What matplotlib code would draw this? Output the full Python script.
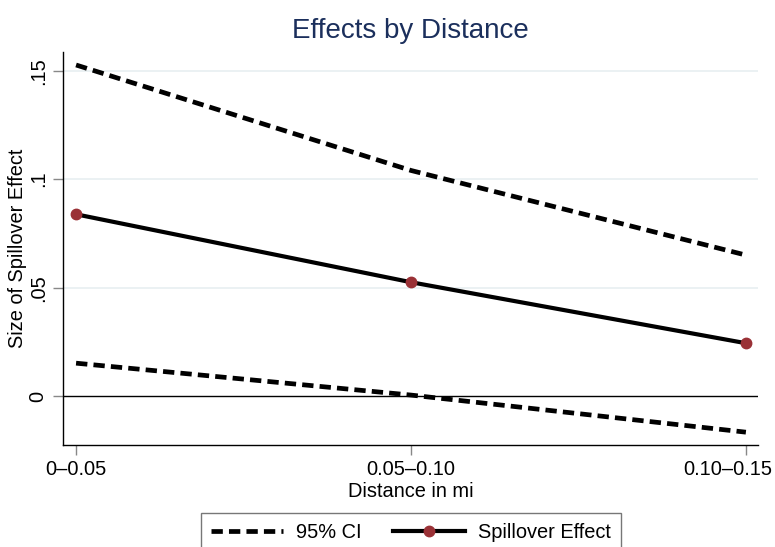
import matplotlib.pyplot as plt
import matplotlib.transforms as mtransforms
from matplotlib.lines import Line2D

categories = ['0\u20130.05', '0.05\u20130.10', '0.10\u20130.15']
effect = [0.0838, 0.0525, 0.0244]
ci_upper = [0.1526, 0.1040, 0.0650]
ci_lower = [0.0152, 0.0005, -0.0166]
yticks = [0, 0.05, 0.1, 0.15]
yticklabels = ['0', '.05', '.1', '.15']

plt.rcParams['font.family'] = ['Liberation Sans', 'DejaVu Sans']

fig = plt.figure(figsize=(7.75, 5.47), dpi=100)
ax = fig.add_axes([0.0813, 0.1865, 0.8967, 0.7185])

x = [1, 2, 3]
red = '#9a3136'

for yv in yticks[1:]:
    ax.axhline(yv, color='#e9f0f2', lw=1.3, zorder=0)
ax.axhline(0, color='black', lw=1.0, zorder=1)

ax.plot(x, ci_upper, color='black', lw=3.4, dashes=(2.4, 1.3), zorder=2)
ax.plot(x, ci_lower, color='black', lw=3.4, dashes=(2.4, 1.3), zorder=2)
ax.plot(x, effect, color='black', lw=3.0, zorder=3)
ax.plot(x, effect, 'o', color=red, ms=7.5, zorder=4)

ax.set_xlim(0.961, 3.036)
ax.set_ylim(-0.0225, 0.1586)
ax.set_xticks(x)
ax.set_xticklabels(categories)
ax.set_yticks(yticks)
ax.set_yticklabels(yticklabels, rotation=90, va='center')

for s in ['top', 'right']:
    ax.spines[s].set_visible(False)
for s in ['left', 'bottom']:
    ax.spines[s].set_linewidth(1.0)

ax.tick_params(axis='both', labelsize=14.4, length=7, width=1.0, color='#888888', pad=4)

# last label is pushed left so it stays inside the figure
last = ax.get_xticklabels()[-1]
last.set_transform(last.get_transform() +
                   mtransforms.ScaledTranslation(-0.18, 0, fig.dpi_scale_trans))

ax.set_xlabel('Distance in mi', fontsize=14.4, labelpad=2)
ax.set_ylabel('Size of Spillover Effect', fontsize=14.4, labelpad=1)
ax.set_title('Effects by Distance', fontsize=20, color='#1b2f5c', pad=10)

handles = [
    Line2D([], [], color='black', lw=3.4, dashes=(2.4, 1.3)),
    Line2D([], [], color='black', lw=3.0, marker='o', markersize=7.5,
           markerfacecolor=red, markeredgecolor=red),
]
leg = fig.legend(handles, ['95% CI', 'Spillover Effect'], loc='lower center',
                 bbox_to_anchor=(0.530, -0.028), ncol=2, fontsize=14.4,
                 frameon=True, fancybox=False, edgecolor='#555555',
                 handlelength=3.6, handletextpad=0.65, columnspacing=1.55,
                 borderpad=0.5)
leg.get_frame().set_linewidth(1.0)

fig.savefig('out.png', dpi=100)
